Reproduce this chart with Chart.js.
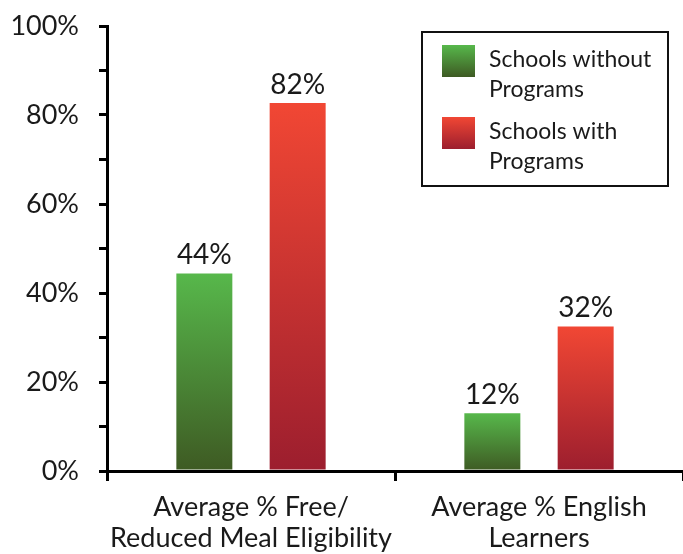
<!DOCTYPE html>
<html>
<head>
<meta charset="utf-8">
<script src="https://cdn.jsdelivr.net/npm/chart.js@4"></script>
<style>
  html, body { margin: 0; padding: 0; background: #fff; }
  #wrap { width: 683px; height: 554px; }
</style>
</head>
<body>
<div id="wrap"><canvas id="chart" width="683" height="554"></canvas></div>
<script>
// Data
const categories = [['Average % Free/', 'Reduced Meal Eligibility'], ['Average % English', 'Learners']];
const seriesLabels = [['Schools without', 'Programs'], ['Schools with', 'Programs']];
const withoutPrograms = [44.4, 13.0];
const withPrograms = [82.7, 32.5];
const withoutText = ['44%', '12%'];
const withText = ['82%', '32%'];
const yTicks = [0, 20, 40, 60, 80, 100];

const FONT = "Lato, 'DejaVu Sans', sans-serif";
const INK = '#1a1a1a';

// gradient stops: [top, bottom]
const greens = ['#57b84b', '#3e5a23'];
const reds = ['#f14734', '#9c1e2e'];

function barGradient(stops) {
  return function(ctx) {
    const chart = ctx.chart;
    if (!chart.chartArea || ctx.raw == null) return stops[0];
    const y = chart.scales.y;
    const top = y.getPixelForValue(ctx.raw);
    const bottom = y.getPixelForValue(0);
    const g = chart.ctx.createLinearGradient(0, top, 0, bottom);
    g.addColorStop(0, stops[0]);
    g.addColorStop(1, stops[1]);
    return g;
  };
}

// value labels above bars
const valueLabels = {
  id: 'valueLabels',
  afterDatasetsDraw(chart) {
    const ctx = chart.ctx;
    const texts = [withoutText, withText];
    ctx.save();
    ctx.font = '28px ' + FONT;
    ctx.fillStyle = INK;
    ctx.textAlign = 'center';
    ctx.textBaseline = 'bottom';
    chart.data.datasets.forEach((ds, i) => {
      chart.getDatasetMeta(i).data.forEach((bar, j) => {
        ctx.fillText(texts[i][j], bar.x, bar.y - 4);
      });
    });
    ctx.restore();
  }
};

// boxed legend with wrapped labels
const boxLegend = {
  id: 'boxLegend',
  afterDraw(chart) {
    const ctx = chart.ctx;
    const stops = [greens, reds];
    ctx.save();
    ctx.strokeStyle = '#111';
    ctx.lineWidth = 2;
    ctx.strokeRect(422, 32, 246, 154);
    ctx.font = '23px ' + FONT;
    ctx.fillStyle = INK;
    ctx.textBaseline = 'middle';
    seriesLabels.forEach((lines, i) => {
      const top = 45 + i * 72;
      const g = ctx.createLinearGradient(0, top, 0, top + 32);
      g.addColorStop(0, stops[i][0]);
      g.addColorStop(1, stops[i][1]);
      ctx.fillStyle = g;
      ctx.fillRect(442, top, 33, 32);
      ctx.fillStyle = INK;
      lines.forEach((ln, k) => ctx.fillText(ln, 489, top + 15 + k * 30));
    });
    ctx.restore();
  }
};

new Chart(document.getElementById('chart'), {
  type: 'bar',
  data: {
    labels: categories,
    datasets: [{
      label: seriesLabels[0].join(' '),
      data: withoutPrograms,
      backgroundColor: barGradient(greens)
    }, {
      label: seriesLabels[1].join(' '),
      data: withPrograms,
      backgroundColor: barGradient(reds)
    }]
  },
  options: {
    responsive: false,
    animation: false,
    categoryPercentage: 0.648,
    barPercentage: 0.6,
    layout: { padding: { top: 26, right: 0, left: 0, bottom: 0 } },
    plugins: {
      legend: { display: false },
      tooltip: { enabled: false }
    },
    scales: {
      x: {
        offset: true,
        grid: {
          offset: true,
          drawOnChartArea: false,
          color: '#000',
          lineWidth: 3,
          tickLength: 10
        },
        border: { color: '#000', width: 3 },
        ticks: {
          color: INK,
          font: { family: FONT, size: 27, lineHeight: 1.18 },
          padding: 10,
          maxRotation: 0,
          autoSkip: false
        },
        afterFit(scale) {
          scale.height = 83;
          scale.paddingLeft = 0;
          scale.paddingRight = 0;
        }
      },
      y: {
        min: 0,
        max: 100,
        afterBuildTicks(scale) {
          const t = [];
          for (let v = 0; v <= 100; v += 10) t.push({ value: v });
          scale.ticks = t;
        },
        grid: {
          drawOnChartArea: false,
          color: '#000',
          lineWidth: 3,
          tickLength: 8
        },
        border: { color: '#000', width: 3 },
        ticks: {
          color: INK,
          font: { family: FONT, size: 27 },
          padding: 20,
          callback: v => yTicks.includes(v) ? v + '%' : ''
        },
        afterFit(scale) {
          scale.width = 107;
          scale.paddingTop = 0;
          scale.paddingBottom = 0;
        }
      }
    }
  },
  plugins: [valueLabels, boxLegend]
});
</script>
</body>
</html>
